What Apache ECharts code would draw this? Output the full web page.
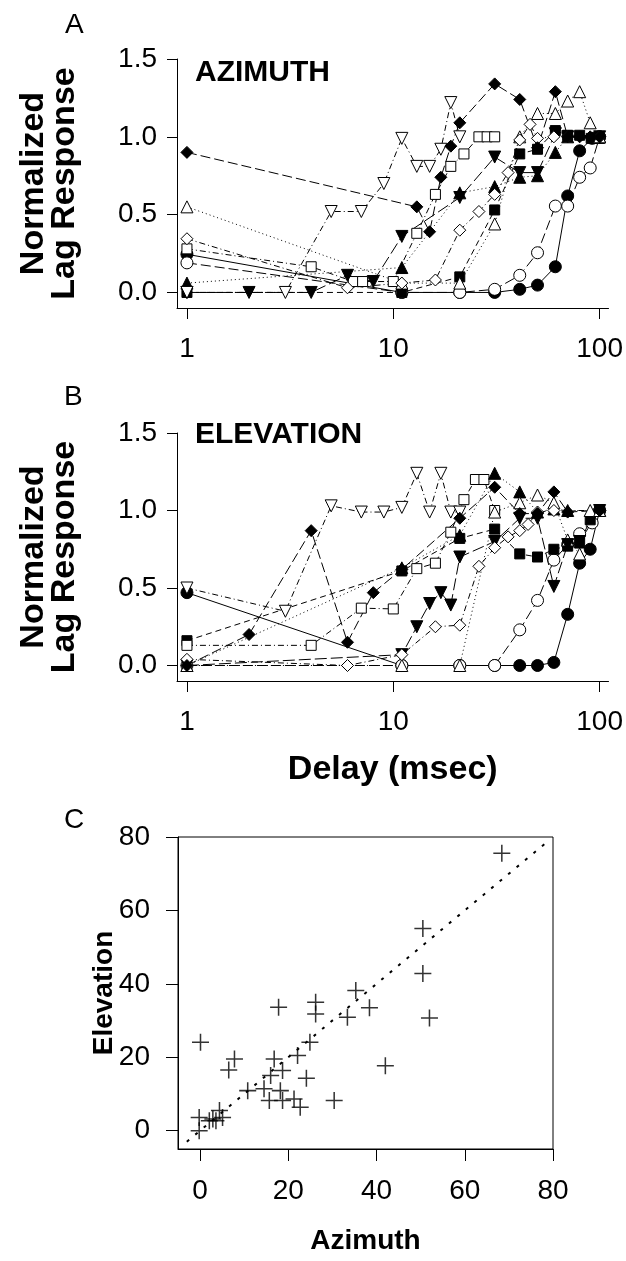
<!DOCTYPE html>
<html>
<head>
<meta charset="utf-8">
<script src="https://cdn.jsdelivr.net/npm/echarts@6/dist/echarts.min.js"></script>
<style>
  html, body { margin: 0; padding: 0; background: #fff; }
  #chart { width: 626px; height: 1261px; }
</style>
</head>
<body>
<div id="chart"></div>
<script>
// delay (msec), normalized lag response -- panel A, azimuth
const azFilledDiamond = [[1,0.90],[13,0.55],[15,0.39],[17,0.74],[19,0.94],[21,1.09],[31,1.34],[41,1.24],[50,0.93],[61,1.29],[70,1.0],[80,1.0],[90,1.0],[100,1.0]];
const azOpenInvTri = [[1,0],[3,0],[5,0.52],[7,0.52],[9,0.70],[11,0.99],[13,0.81],[15,0.81],[17,0.92],[19,1.22],[21,1.0]];
const azFilledInvTri = [[1,0],[2,0],[4,0],[6,0.11],[8,0.07],[11,0.36],[21,0.61],[31,0.87],[41,0.77],[50,0.77],[61,1.02],[70,1.0],[100,1.0]];
const azFilledTri = [[1,0.06],[11,0.16],[21,0.64],[31,0.68],[41,0.74],[50,0.75],[61,0.90],[70,1.0],[100,1.0]];
const azOpenTri = [[1,0.55],[11,0.06],[21,0.06],[31,0.44],[41,1.0],[50,1.15],[61,1.15],[70,1.23],[80,1.29],[90,1.09],[100,1.0]];
const azOpenDiamond = [[1,0.345],[6,0.03],[11,0.06],[16,0.08],[21,0.40],[26,0.52],[31,0.63],[36,0.77],[41,0.98],[46,1.08],[50,0.99],[60,1.0],[70,1.0],[100,1.0]];
const azOpenSquare = [[1,0.28],[4,0.165],[6.4,0.07],[7.1,0.07],[10,0.07],[13,0.38],[16,0.63],[19,0.81],[22,0.89],[26,1.0],[28.5,1.0],[31,1.0]];
const azFilledCircle = [[1,0.245],[11,0],[21,0],[31,0],[41,0.02],[50,0.047],[61,0.165],[70,0.62],[80,0.91],[92,0.99],[100,1.0]];
const azOpenCircle = [[1,0.19],[11,0],[21,0],[31,0.02],[41,0.11],[50,0.255],[61,0.555],[70,0.555],[80,0.74],[90,0.80],[100,1.0]];
const azFilledSquare = [[1,0],[11,0],[21,0.10],[31,0.53],[41,0.89],[50,0.92],[61,1.04],[70,1.01],[80,1.01],[91,0.99],[100,0.99]];

// panel B, elevation
const elOpenInvTri = [[1,0.5],[3,0.35],[5,1.03],[7,0.99],[9,0.99],[11,1.02],[13,1.24],[15,0.99],[17,1.24],[19,0.99],[21,0.99]];
const elFilledDiamond = [[1,0],[2,0.2],[4,0.87],[6,0.15],[8,0.47],[11,0.62],[21,0.95],[31,1.15],[41,0.98],[50,0.98],[60,1.12],[70,0.99],[100,1.0]];
const elFilledCircle = [[1,0.47],[11,0],[21,0],[31,0],[41,0],[50,0],[60,0.02],[70,0.33],[80,0.66],[90,0.75],[100,1.0]];
const elOpenCircle = [[1,0],[11,0],[21,0],[31,0],[41,0.23],[50,0.42],[60,0.68],[70,0.78],[80,0.85],[92,0.92],[100,1.0]];
const elFilledSquare = [[1,0.16],[11,0.61],[21,0.82],[31,0.88],[41,0.72],[50,0.70],[60,0.75],[70,0.77],[80,0.79],[90,0.94],[100,1.0]];
const elFilledTri = [[1,0],[11,0.63],[21,0.84],[31,1.24],[41,1.12],[50,0.99],[60,1.01],[70,1.0],[100,1.0]];
const elFilledInvTri = [[1,0],[11,0.07],[13,0.25],[15,0.40],[17,0.47],[19,0.39],[21,0.70],[31,0.80],[41,0.95],[50,0.95],[60,0.51],[70,0.78],[80,0.80],[100,1.0]];
const elOpenSquare = [[1,0.13],[4,0.13],[7,0.37],[10,0.365],[13,0.625],[16,0.66],[19,0.86],[22,1.07],[25,1.2],[27.5,1.2],[31,1.0]];
const elOpenDiamond = [[1,0.04],[6,0],[11,0.07],[16,0.25],[21,0.26],[26,0.64],[31,0.76],[36,0.83],[41,0.87],[45,0.91],[50,0.99],[60,1.0],[100,1.0]];
const elOpenTri = [[1,0],[11,0],[21,0],[31,0.99],[41,1.05],[50,1.10],[60,1.05],[70,0.81],[80,0.72],[90,1.0],[100,1.0]];

// panel C, best delay per cell
const azimuth = [68.4,50.5,50.5,52.0,35.3,38.4,33.4,26.2,26.2,17.8,24.9,22.1,16.8,18.7,24.1,42.0,30.4,0.1,7.8,6.5,16.0,14.5,10.8,18.2,15.7,18.7,21.3,22.7,4.4,-0.2,-0.2,2.9,3.6,5.1,2.1];
const elevation = [75.6,55.1,42.8,30.7,38.2,33.5,30.9,35.0,31.8,33.6,24.1,20.5,19.5,16.4,14.3,17.7,8.2,24.1,19.5,16.5,15.0,11.4,10.9,10.9,8.2,8.2,8.6,6.4,5.5,3.6,0,3.2,2.7,3.6,2.7];
const identityLine = [[-3,-3],[79,79]];

const delayTicks = [1, 10, 100];
const lagTicks = [0, 0.5, 1.0, 1.5];
const scatterTicks = [0, 20, 40, 60, 80];

const FONT = 'Liberation Sans, Arial, Helvetica, sans-serif';
const SOLID = 'solid', LONG = [10, 4], DASH = [6, 4], DOT = [1, 3], DASHDOT = [6, 3, 1, 3];

function lag(data, grid, symbol, filled, dash, rot) {
  return {
    type: 'line', xAxisIndex: grid, yAxisIndex: grid,
    data: data.map(d => [Math.log10(d[0]), d[1]]),
    symbol: symbol, symbolSize: symbol === 'rect' ? 10 : 12, symbolRotate: rot || 0,
    showAllSymbol: true, animation: false,
    lineStyle: { color: '#000', width: 1, type: dash },
    itemStyle: { color: filled ? '#000' : '#fff', borderColor: '#000', borderWidth: 1 }
  };
}

function panelSeries(g, s) {
  return [
    lag(s[0], g, 'circle', true, SOLID),
    lag(s[1], g, 'circle', false, LONG),
    lag(s[2], g, 'rect', true, DASH),
    lag(s[3], g, 'rect', false, DASHDOT),
    lag(s[4], g, 'triangle', true, DOT),
    lag(s[5], g, 'triangle', false, DOT),
    lag(s[6], g, 'triangle', true, [12, 4], 180),
    lag(s[7], g, 'triangle', false, DASHDOT, 180),
    lag(s[8], g, 'diamond', false, DASHDOT),
    lag(s[9], g, 'diamond', true, LONG)
  ];
}

const tickLabel = { fontFamily: FONT, fontSize: 28, color: '#000' };

function delayAxis(g, name) {
  return {
    type: 'value', gridIndex: g, min: Math.log10(0.895), max: 2.043,
    axisLine: { onZero: false, lineStyle: { color: '#000', width: 1 } },
    axisTick: { length: 11, customValues: [0, 1, 2], lineStyle: { color: '#000' } },
    axisLabel: Object.assign({ margin: 27, customValues: [0, 1, 2],
      formatter: v => String(delayTicks[Math.round(v)]) }, tickLabel),
    splitLine: { show: false },
    name: name, nameLocation: 'middle', nameGap: 72, nameMoveOverlap: false,
    nameTextStyle: { fontFamily: FONT, fontSize: 34, fontWeight: 'bold', color: '#000' }
  };
}

function lagAxis(g) {
  return {
    type: 'value', gridIndex: g, min: -0.1, max: 1.5,
    axisLine: { show: true, onZero: false, lineStyle: { color: '#000', width: 1 } },
    axisTick: { show: true, length: 10, customValues: lagTicks, lineStyle: { color: '#000' } },
    axisLabel: Object.assign({ margin: 20, customValues: lagTicks,
      formatter: v => v.toFixed(1) }, tickLabel),
    splitLine: { show: false },
    name: 'Normalized\nLag Response', nameLocation: 'middle', nameRotate: 90, nameGap: 97,
    nameMoveOverlap: false,
    nameTextStyle: { fontFamily: FONT, fontSize: 34, fontWeight: 'bold', color: '#000', lineHeight: 31 }
  };
}

function scatterAxis(g, name, gap) {
  return {
    type: 'value', gridIndex: g, min: -5, max: 80,
    axisLine: { show: true, onZero: false, lineStyle: { color: '#000', width: 1 } },
    axisTick: { show: true, length: 12, customValues: scatterTicks, lineStyle: { color: '#000' } },
    axisLabel: Object.assign({ margin: 28, customValues: scatterTicks }, tickLabel),
    splitLine: { show: false },
    name: name, nameLocation: 'middle', nameGap: gap, nameMoveOverlap: false,
    nameTextStyle: { fontFamily: FONT, fontSize: 28, fontWeight: 'bold', color: '#000' }
  };
}

const azSet = [azFilledCircle, azOpenCircle, azFilledSquare, azOpenSquare, azFilledTri, azOpenTri,
  azFilledInvTri, azOpenInvTri, azOpenDiamond, azFilledDiamond];
const elSet = [elFilledCircle, elOpenCircle, elFilledSquare, elOpenSquare, elFilledTri, elOpenTri,
  elFilledInvTri, elOpenInvTri, elOpenDiamond, elFilledDiamond];

const panelLetter = { fontFamily: FONT, fontSize: 28, fill: '#000' };
const panelTitle = { fontFamily: FONT, fontSize: 30, fontWeight: 'bold', fill: '#000' };

const option = {
  backgroundColor: '#fff',
  animation: false,
  grid: [
    { left: 177, top: 59, width: 433, height: 249 },
    { left: 177, top: 433, width: 433, height: 248 },
    { left: 178, top: 837, width: 375, height: 312, show: true, borderColor: '#000', borderWidth: 1 }
  ],
  xAxis: [delayAxis(0, ''), delayAxis(1, 'Delay (msec)'), scatterAxis(2, 'Azimuth', 78)],
  yAxis: [lagAxis(0), lagAxis(1), Object.assign(scatterAxis(2, 'Elevation', 60), { nameRotate: 90 })],
  graphic: [
    { type: 'text', x: 65, y: 11, style: Object.assign({ text: 'A' }, panelLetter) },
    { type: 'text', x: 64, y: 383, style: Object.assign({ text: 'B' }, panelLetter) },
    { type: 'text', x: 64, y: 806, style: Object.assign({ text: 'C' }, panelLetter) },
    { type: 'text', x: 195, y: 58, style: Object.assign({ text: 'AZIMUTH' }, panelTitle) },
    { type: 'text', x: 195, y: 420, style: Object.assign({ text: 'ELEVATION' }, panelTitle) }
  ],
  series: panelSeries(0, azSet).concat(panelSeries(1, elSet)).concat([
    {
      type: 'line', xAxisIndex: 2, yAxisIndex: 2, data: identityLine, symbol: 'none',
      lineStyle: { color: '#000', width: 2, type: [3, 8] }, animation: false
    },
    {
      type: 'scatter', xAxisIndex: 2, yAxisIndex: 2,
      data: azimuth.map((a, i) => [a, elevation[i]]),
      symbol: 'path://M0,9.1H20V10.9H0Z M9.1,0H10.9V20H9.1Z', symbolSize: 17,
      itemStyle: { color: '#000' }, animation: false
    }
  ])
};

const chart = echarts.init(document.getElementById('chart'), null, { renderer: 'canvas' });
chart.setOption(option);
</script>
</body>
</html>
